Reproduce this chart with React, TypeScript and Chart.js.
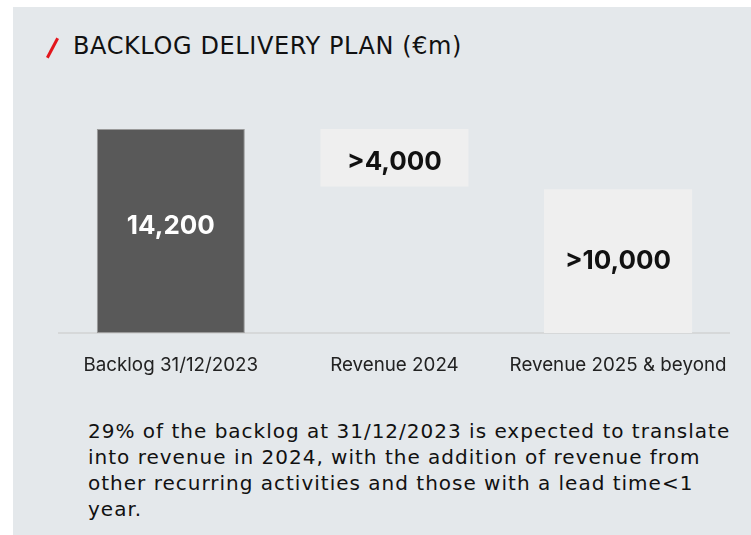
import React, { useEffect, useRef } from "react";
import { Chart, registerables } from "chart.js";

Chart.register(...registerables);

const categories = ["Backlog 31/12/2023", "Revenue 2024", "Revenue 2025 & beyond"];
const barStart = [0, 10200, 0];
const barEnd = [14200, 14200, 10000];
const valueLabels = ["14,200", ">4,000", ">10,000"];
const barColors = ["#595959", "#efefef", "#efefef"];
const labelColors = ["#ffffff", "#111111", "#111111"];
const labelOffsets = [-5, 4, 0];

const title = "BACKLOG DELIVERY PLAN (€m)";
const noteLines = [
  "29% of the backlog at 31/12/2023 is expected to translate",
  "into revenue in 2024, with the addition of revenue from",
  "other recurring activities and those with a lead time<1",
  "year.",
];

const valueLabelPlugin = {
  id: "valueLabels",
  afterDatasetsDraw(chart: any) {
    const ctx = chart.ctx;
    const meta = chart.getDatasetMeta(0);
    ctx.save();
    ctx.font = "bold 26px Inter, 'Noto Sans', sans-serif";
    ctx.textAlign = "center";
    ctx.textBaseline = "middle";
    meta.data.forEach((el: any, i: number) => {
      const p = el.getProps(["x", "y", "base"], true);
      ctx.fillStyle = labelColors[i];
      ctx.fillText(valueLabels[i], p.x, (p.y + p.base) / 2 + labelOffsets[i]);
    });
    ctx.restore();
  },
};

export default function App() {
  const ref = useRef<HTMLCanvasElement>(null);
  useEffect(() => {
    document.body.style.margin = "0";
    const chart = new Chart(ref.current!, {
      type: "bar",
      data: {
        labels: categories,
        datasets: [
          {
            data: barStart.map((s, i) => [s, barEnd[i]]) as any,
            backgroundColor: barColors,
            borderColor: ["#9a9a9a", "rgba(0,0,0,0)", "rgba(0,0,0,0)"],
            borderWidth: [1, 0, 0] as any,
            borderSkipped: false,
            categoryPercentage: 1,
            barPercentage: 0.662,
          },
        ],
      },
      options: {
        responsive: false,
        animation: false,
        layout: { padding: { left: 59, right: 21, top: 129, bottom: 0 } },
        plugins: { legend: { display: false }, tooltip: { enabled: false } },
        scales: {
          x: {
            grid: { display: false, drawTicks: false },
            border: { display: true, color: "#d6d8d9", width: 2 },
            ticks: {
              color: "#222222",
              font: { family: "Inter, 'Noto Sans', sans-serif", size: 18.8 },
              padding: 21,
              maxRotation: 0,
            },
            afterFit: (s: any) => {
              s.height = 67;
            },
          },
          y: { display: false, min: 0, max: 14200 },
        },
      },
      plugins: [valueLabelPlugin],
    });
    return () => chart.destroy();
  }, []);

  return (
    <div style={{ position: "relative", width: 751, height: 535, overflow: "hidden", background: "#ffffff" }}>
      <div
        style={{
          position: "absolute",
          left: 13,
          top: 7,
          width: 738,
          height: 528,
          background: "#e4e8eb",
        }}
      />
      <div
        style={{
          position: "absolute",
          left: 50.5,
          top: 36.5,
          width: 3,
          height: 22,
          background: "#e3161c",
          transform: "rotate(28deg)",
        }}
      />
      <div
        style={{
          position: "absolute",
          left: 73,
          top: 30,
          fontFamily: "'DejaVu Sans', sans-serif",
          fontSize: 24,
          lineHeight: "32px",
          letterSpacing: "0.6px",
          color: "#111111",
          whiteSpace: "nowrap",
        }}
      >
        {title}
      </div>
      <canvas ref={ref} width={751} height={400} style={{ position: "absolute", left: 0, top: 0 }} />
      <div
        style={{
          position: "absolute",
          left: 88,
          top: 418,
          fontFamily: "'DejaVu Sans', sans-serif",
          fontSize: 20,
          lineHeight: "26px",
          letterSpacing: "1px",
          color: "#111111",
          whiteSpace: "nowrap",
        }}
      >
        {noteLines.map((l, i) => (
          <div key={i}>{l}</div>
        ))}
      </div>
    </div>
  );
}
